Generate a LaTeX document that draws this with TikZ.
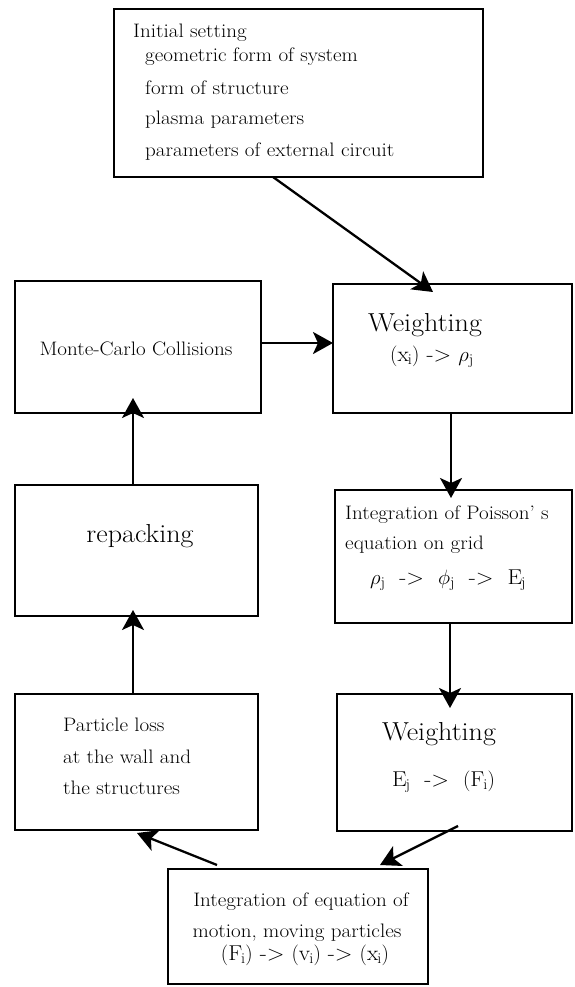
\documentclass[tikz,border=0pt]{standalone}
\usepackage{fontspec}
\setmainfont[FakeStretch=1.08]{Latin Modern Roman}
\usetikzlibrary{arrows.meta,calc}
\begin{document}
\begin{tikzpicture}[x=1pt,y=-1pt,
  box/.style={draw, line width=2.7pt, rectangle, inner sep=0pt, outer sep=0pt, anchor=north west},
  arr/.style={line width=2.3pt, -{Stealth[length=20pt,width=22pt,inset=5pt]}},
  txt/.style={inner sep=0pt, font=\fontsize{19.5}{23}\selectfont},
  big/.style={inner sep=0pt, font=\fontsize{26}{30}\selectfont},
  mid/.style={inner sep=0pt, font=\fontsize{21.5}{25}\selectfont}]
\useasboundingbox (0,0) rectangle (575,987);
% boxes
\node[box, minimum width=369pt, minimum height=168pt] (init) at (114,9) {};
\node[box, minimum width=246pt, minimum height=132pt] (mc) at (15,281) {};
\node[box, minimum width=239pt, minimum height=129pt] (w1) at (333,284) {};
\node[box, minimum width=237pt, minimum height=133pt] (poi) at (335,490) {};
\node[box, minimum width=235pt, minimum height=137pt] (w2) at (337,694) {};
\node[box, minimum width=243pt, minimum height=131pt] (rep) at (15,485) {};
\node[box, minimum width=243pt, minimum height=136pt] (pl) at (15,694) {};
\node[box, minimum width=260pt, minimum height=115pt] (eom) at (168,869) {};
% texts
\node[txt, anchor=west] (i1) at (133,33) {Initial setting};
\node[txt, anchor=west] (i2) at (145,57) {geometric form of system};
\node[txt, anchor=west] (i3) at (145,88) {form of structure};
\node[txt, anchor=west] (i4) at (145,120) {plasma parameters};
\node[txt, anchor=west] (i5) at (145,152) {parameters of external circuit};
\node[txt] (mct) at (136,349) {Monte-Carlo Collisions};
\node[big, anchor=west] (w1a) at (368,325) {Weighting};
\node[mid, anchor=west] (w1b) at (390,357) {$(\mathrm{x}_{\mathrm{i}})$ -> $\rho_{\mathrm{j}}$};
\node[txt, anchor=west] (p1) at (345,515) {Integration of Poisson' s};
\node[txt, anchor=west] (p2) at (345,545) {equation on grid};
\node[mid, anchor=west] (p3) at (370,580) {$\rho_{\mathrm{j}}$ ~->~ $\phi_{\mathrm{j}}$ ~->~ $\mathrm{E}_{\mathrm{j}}$};
\node[big, anchor=west] (w2a) at (382,734) {Weighting};
\node[mid, anchor=west] (w2b) at (392,782) {$\mathrm{E}_{\mathrm{j}}$ ~->~ $(\mathrm{F}_{\mathrm{i}})$};
\node[big] (rept) at (140,536) {repacking};
\node[txt, anchor=west] (l1) at (63,725) {Particle loss};
\node[txt, anchor=west] (l2) at (63,757) {at the wall and};
\node[txt, anchor=west] (l3) at (63,788) {the structures};
\node[txt] (e1) at (301,902) {Integration of equation of};
\node[txt] (e2) at (297,933) {motion, moving particles};
\node[mid] (e3) at (305,955) {$(\mathrm{F}_{\mathrm{i}})$ -> $(\mathrm{v}_{\mathrm{i}})$ -> $(\mathrm{x}_{\mathrm{i}})$};
% connectors
\draw[arr] ($(init.south west)+(159,0)$) -- ($(w1.north west)+(100,8)$);
\draw[arr] ($(mc.east)+(0,-4)$) -- ($(w1.west)+(0,-5.5)$);
\draw[arr] ($(w1.south west)+(118,0)$) -- ($(poi.north west)+(116,8)$);
\draw[arr] ($(poi.south west)+(115,0)$) -- ($(w2.north west)+(113,14)$);
\draw[arr] ($(w2.south west)+(121,-5)$) -- ($(eom.north west)+(212,-4)$);
\draw[arr] ($(eom.north west)+(49,-4)$) -- ($(pl.south west)+(122,3)$);
\draw[arr] ($(pl.north west)+(118,0)$) -- ($(rep.south west)+(118,-6)$);
\draw[arr] ($(rep.north west)+(118,0)$) -- ($(mc.south west)+(118,-15)$);
\end{tikzpicture}
\end{document}
